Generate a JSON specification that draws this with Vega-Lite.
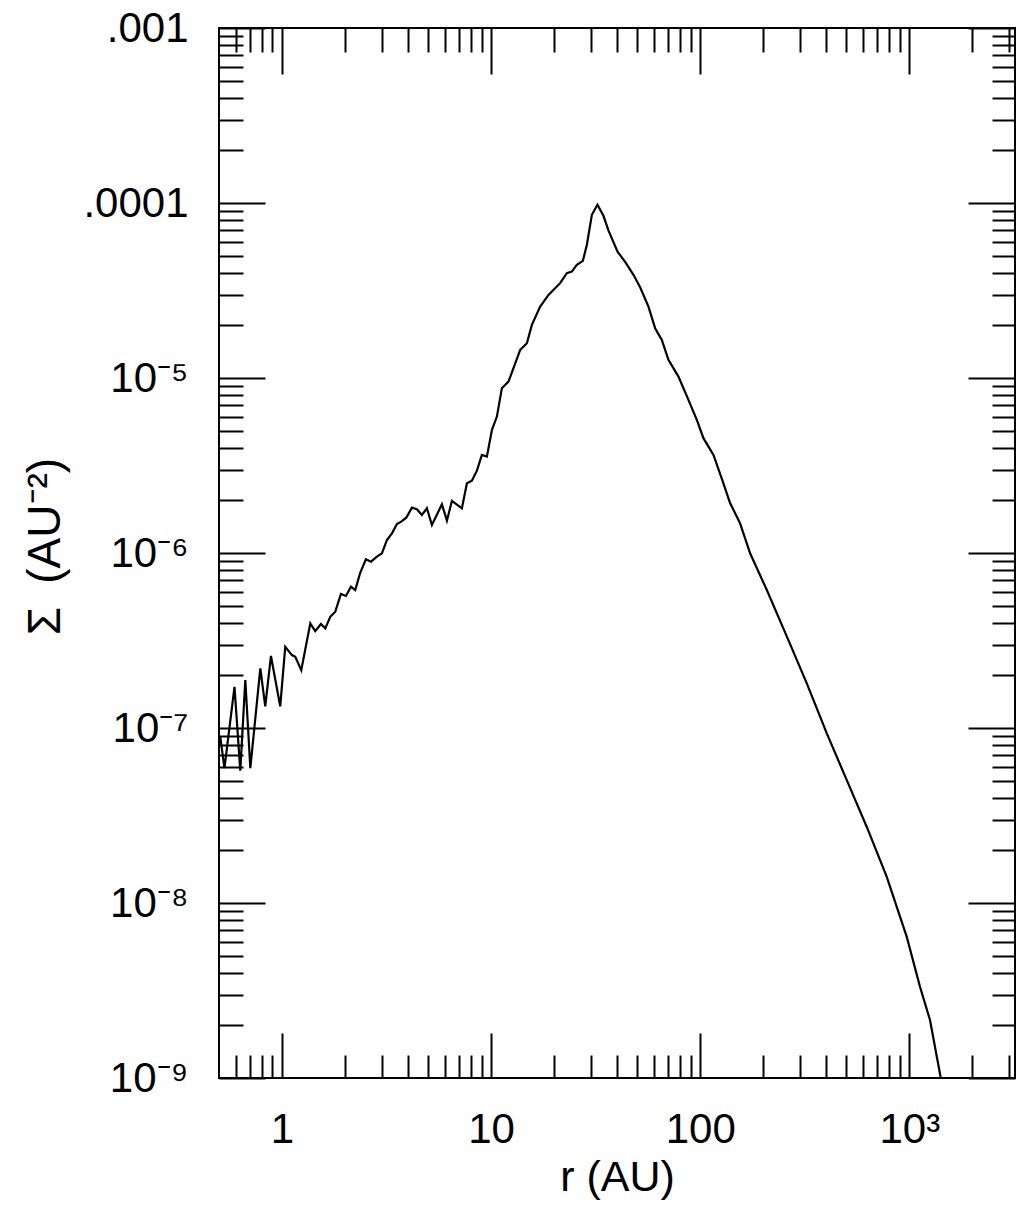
{
  "$schema": "https://vega.github.io/schema/vega-lite/v6.json",
  "autosize": {"type": "none"},
  "padding": {"left": 219, "top": 28, "right": 2, "bottom": 139},
  "width": 796,
  "height": 1050,
  "background": "white",
  "config": {
    "view": {"stroke": "black", "strokeWidth": 2, "fill": "white"},
    "axis": {
      "grid": false,
      "domain": false,
      "tickColor": "black",
      "tickWidth": 2,
      "labelColor": "black",
      "labelFont": "Liberation Sans",
      "labelFontSize": 42,
      "labelOverlap": false,
      "labelFlush": false,
      "labelBound": false,
      "titleColor": "black",
      "titleFont": "Liberation Sans",
      "titleFontSize": 42,
      "titleFontWeight": "normal"
    }
  },
  "data": {
    "values": [
      {"r": 0.507, "sigma": 8.9e-8},
      {"r": 0.531, "sigma": 5.9e-8},
      {"r": 0.593, "sigma": 1.72e-7},
      {"r": 0.632, "sigma": 5.7e-8},
      {"r": 0.668, "sigma": 1.88e-7},
      {"r": 0.706, "sigma": 5.9e-8},
      {"r": 0.788, "sigma": 2.19e-7},
      {"r": 0.832, "sigma": 1.33e-7},
      {"r": 0.886, "sigma": 2.58e-7},
      {"r": 0.981, "sigma": 1.33e-7},
      {"r": 1.037, "sigma": 2.91e-7},
      {"r": 1.116, "sigma": 2.61e-7},
      {"r": 1.158, "sigma": 2.55e-7},
      {"r": 1.237, "sigma": 2.14e-7},
      {"r": 1.366, "sigma": 3.96e-7},
      {"r": 1.443, "sigma": 3.58e-7},
      {"r": 1.536, "sigma": 3.93e-7},
      {"r": 1.611, "sigma": 3.71e-7},
      {"r": 1.702, "sigma": 4.32e-7},
      {"r": 1.799, "sigma": 4.62e-7},
      {"r": 1.914, "sigma": 5.83e-7},
      {"r": 2.023, "sigma": 5.68e-7},
      {"r": 2.137, "sigma": 6.42e-7},
      {"r": 2.24, "sigma": 6.14e-7},
      {"r": 2.367, "sigma": 7.71e-7},
      {"r": 2.52, "sigma": 9.2e-7},
      {"r": 2.664, "sigma": 8.92e-7},
      {"r": 2.845, "sigma": 9.53e-7},
      {"r": 3.006, "sigma": 9.96e-7},
      {"r": 3.177, "sigma": 1.187e-6},
      {"r": 3.357, "sigma": 1.296e-6},
      {"r": 3.546, "sigma": 1.465e-6},
      {"r": 3.718, "sigma": 1.51e-6},
      {"r": 3.929, "sigma": 1.591e-6},
      {"r": 4.182, "sigma": 1.816e-6},
      {"r": 4.419, "sigma": 1.778e-6},
      {"r": 4.669, "sigma": 1.649e-6},
      {"r": 4.933, "sigma": 1.801e-6},
      {"r": 5.212, "sigma": 1.445e-6},
      {"r": 5.819, "sigma": 1.898e-6},
      {"r": 6.148, "sigma": 1.53e-6},
      {"r": 6.496, "sigma": 1.983e-6},
      {"r": 7.252, "sigma": 1.801e-6},
      {"r": 7.662, "sigma": 2.503e-6},
      {"r": 8.093, "sigma": 2.591e-6},
      {"r": 8.554, "sigma": 2.954e-6},
      {"r": 9.036, "sigma": 3.633e-6},
      {"r": 9.548, "sigma": 3.553e-6},
      {"r": 10.09, "sigma": 5.05e-6},
      {"r": 10.66, "sigma": 6.02e-6},
      {"r": 11.26, "sigma": 8.74e-6},
      {"r": 12.11, "sigma": 9.54e-6},
      {"r": 13.78, "sigma": 1.448e-5},
      {"r": 14.83, "sigma": 1.581e-5},
      {"r": 15.67, "sigma": 2.012e-5},
      {"r": 17.17, "sigma": 2.56e-5},
      {"r": 18.81, "sigma": 2.986e-5},
      {"r": 21.39, "sigma": 3.483e-5},
      {"r": 23.03, "sigma": 3.973e-5},
      {"r": 24.33, "sigma": 4.057e-5},
      {"r": 25.71, "sigma": 4.433e-5},
      {"r": 27.47, "sigma": 4.672e-5},
      {"r": 28.71, "sigma": 5.77e-5},
      {"r": 30.33, "sigma": 8.56e-5},
      {"r": 32.26, "sigma": 9.77e-5},
      {"r": 34.45, "sigma": 8.45e-5},
      {"r": 36.4, "sigma": 6.98e-5},
      {"r": 40.29, "sigma": 5.26e-5},
      {"r": 43.75, "sigma": 4.61e-5},
      {"r": 47.94, "sigma": 3.886e-5},
      {"r": 51.6, "sigma": 3.296e-5},
      {"r": 56.56, "sigma": 2.56e-5},
      {"r": 60.86, "sigma": 1.926e-5},
      {"r": 65.53, "sigma": 1.651e-5},
      {"r": 70.47, "sigma": 1.269e-5},
      {"r": 78.68, "sigma": 1.019e-5},
      {"r": 87.82, "sigma": 7.5e-6},
      {"r": 96.31, "sigma": 5.76e-6},
      {"r": 103.6, "sigma": 4.53e-6},
      {"r": 115.7, "sigma": 3.633e-6},
      {"r": 129.1, "sigma": 2.503e-6},
      {"r": 138.9, "sigma": 1.931e-6},
      {"r": 155.1, "sigma": 1.478e-6},
      {"r": 173.2, "sigma": 9.96e-7},
      {"r": 208.2, "sigma": 6.14e-7},
      {"r": 264.0, "sigma": 3.18e-7},
      {"r": 323.3, "sigma": 1.8e-7},
      {"r": 402.9, "sigma": 9.31e-8},
      {"r": 502.0, "sigma": 5.04e-8},
      {"r": 625.9, "sigma": 2.72e-8},
      {"r": 779.8, "sigma": 1.41e-8},
      {"r": 971.9, "sigma": 6.4e-9},
      {"r": 1125, "sigma": 3.31e-9},
      {"r": 1256, "sigma": 2.14e-9},
      {"r": 1413, "sigma": 1.0e-9}
    ]
  },
  "layer": [
    {
      "mark": {"type": "line", "color": "black", "strokeWidth": 2.2, "clip": true},
      "encoding": {
        "x": {
          "field": "r", "type": "quantitative",
          "scale": {"type": "log", "domain": [0.5, 3200], "nice": false},
          "axis": {
            "orient": "bottom",
            "values": [1, 10, 100, 1000],
            "tickSize": -45,
            "labelPadding": 76,
            "labelExpr": "datum.value > 999 ? '10³' : format(datum.value, 'd')",
            "title": "r (AU)",
            "titleX": 398,
            "titleY": 99,
            "titleFontSize": 43,
            "titleBaseline": "middle",
            "titleAlign": "center"
          }
        },
        "y": {
          "field": "sigma", "type": "quantitative",
          "scale": {"type": "log", "domain": [1e-9, 1e-3], "nice": false},
          "axis": {
            "orient": "left",
            "values": [1e-9, 1e-8, 1e-7, 1e-6, 1e-5, 1e-4, 1e-3],
            "tickSize": -46,
            "labelPadding": 77,
            "labelAlign": "right",
            "labelBaseline": "middle",
            "labelExpr": "datum.value < 2e-9 ? '10⁻⁹' : datum.value < 2e-8 ? '10⁻⁸' : datum.value < 2e-7 ? '10⁻⁷' : datum.value < 2e-6 ? '10⁻⁶' : datum.value < 2e-5 ? '10⁻⁵' : datum.value < 2e-4 ? '.0001' : '.001'",
            "title": "Σ\u2002(AU⁻²)",
            "titleFontSize": 46,
            "titleX": -174,
            "titleY": 518,
            "titleAngle": -90,
            "titleBaseline": "middle",
            "titleAlign": "center"
          }
        }
      }
    },
    {
      "mark": {"type": "line", "color": "black", "strokeWidth": 2, "strokeOpacity": 0, "clip": true},
      "encoding": {
        "x": {
          "field": "r", "type": "quantitative",
          "axis": {
            "orient": "bottom",
            "values": [0.6, 0.7, 0.8, 0.9, 2, 3, 4, 5, 6, 7, 8, 9, 20, 30, 40, 50, 60, 70, 80, 90, 200, 300, 400, 500, 600, 700, 800, 900, 2000, 3000],
            "tickSize": -23,
            "labels": false,
            "title": null
          }
        },
        "y": {
          "field": "sigma", "type": "quantitative",
          "axis": {
            "orient": "left",
            "values": [2e-9, 3e-9, 4e-9, 5e-9, 6e-9, 7e-9, 8e-9, 9e-9, 2e-8, 3e-8, 4e-8, 5e-8, 6e-8, 7e-8, 8e-8, 9e-8, 2e-7, 3e-7, 4e-7, 5e-7, 6e-7, 7e-7, 8e-7, 9e-7, 2e-6, 3e-6, 4e-6, 5e-6, 6e-6, 7e-6, 8e-6, 9e-6, 2e-5, 3e-5, 4e-5, 5e-5, 6e-5, 7e-5, 8e-5, 9e-5, 2e-4, 3e-4, 4e-4, 5e-4, 6e-4, 7e-4, 8e-4, 9e-4],
            "tickSize": -24,
            "labels": false,
            "title": null
          }
        }
      }
    },
    {
      "mark": {"type": "line", "color": "black", "strokeWidth": 2, "strokeOpacity": 0, "clip": true},
      "encoding": {
        "x": {
          "field": "r", "type": "quantitative",
          "axis": {
            "orient": "top",
            "values": [1, 10, 100, 1000],
            "tickSize": -46,
            "labels": false,
            "title": null
          }
        },
        "y": {
          "field": "sigma", "type": "quantitative",
          "axis": {
            "orient": "right",
            "values": [1e-9, 1e-8, 1e-7, 1e-6, 1e-5, 1e-4, 1e-3],
            "tickSize": -47,
            "labels": false,
            "title": null
          }
        }
      }
    },
    {
      "mark": {"type": "line", "color": "black", "strokeWidth": 2, "strokeOpacity": 0, "clip": true},
      "encoding": {
        "x": {
          "field": "r", "type": "quantitative",
          "axis": {
            "orient": "top",
            "values": [0.6, 0.7, 0.8, 0.9, 2, 3, 4, 5, 6, 7, 8, 9, 20, 30, 40, 50, 60, 70, 80, 90, 200, 300, 400, 500, 600, 700, 800, 900, 2000, 3000],
            "tickSize": -24,
            "labels": false,
            "title": null
          }
        },
        "y": {
          "field": "sigma", "type": "quantitative",
          "axis": {
            "orient": "right",
            "values": [2e-9, 3e-9, 4e-9, 5e-9, 6e-9, 7e-9, 8e-9, 9e-9, 2e-8, 3e-8, 4e-8, 5e-8, 6e-8, 7e-8, 8e-8, 9e-8, 2e-7, 3e-7, 4e-7, 5e-7, 6e-7, 7e-7, 8e-7, 9e-7, 2e-6, 3e-6, 4e-6, 5e-6, 6e-6, 7e-6, 8e-6, 9e-6, 2e-5, 3e-5, 4e-5, 5e-5, 6e-5, 7e-5, 8e-5, 9e-5, 2e-4, 3e-4, 4e-4, 5e-4, 6e-4, 7e-4, 8e-4, 9e-4],
            "tickSize": -23,
            "labels": false,
            "title": null
          }
        }
      }
    }
  ],
  "resolve": {"axis": {"x": "independent", "y": "independent"}}
}
